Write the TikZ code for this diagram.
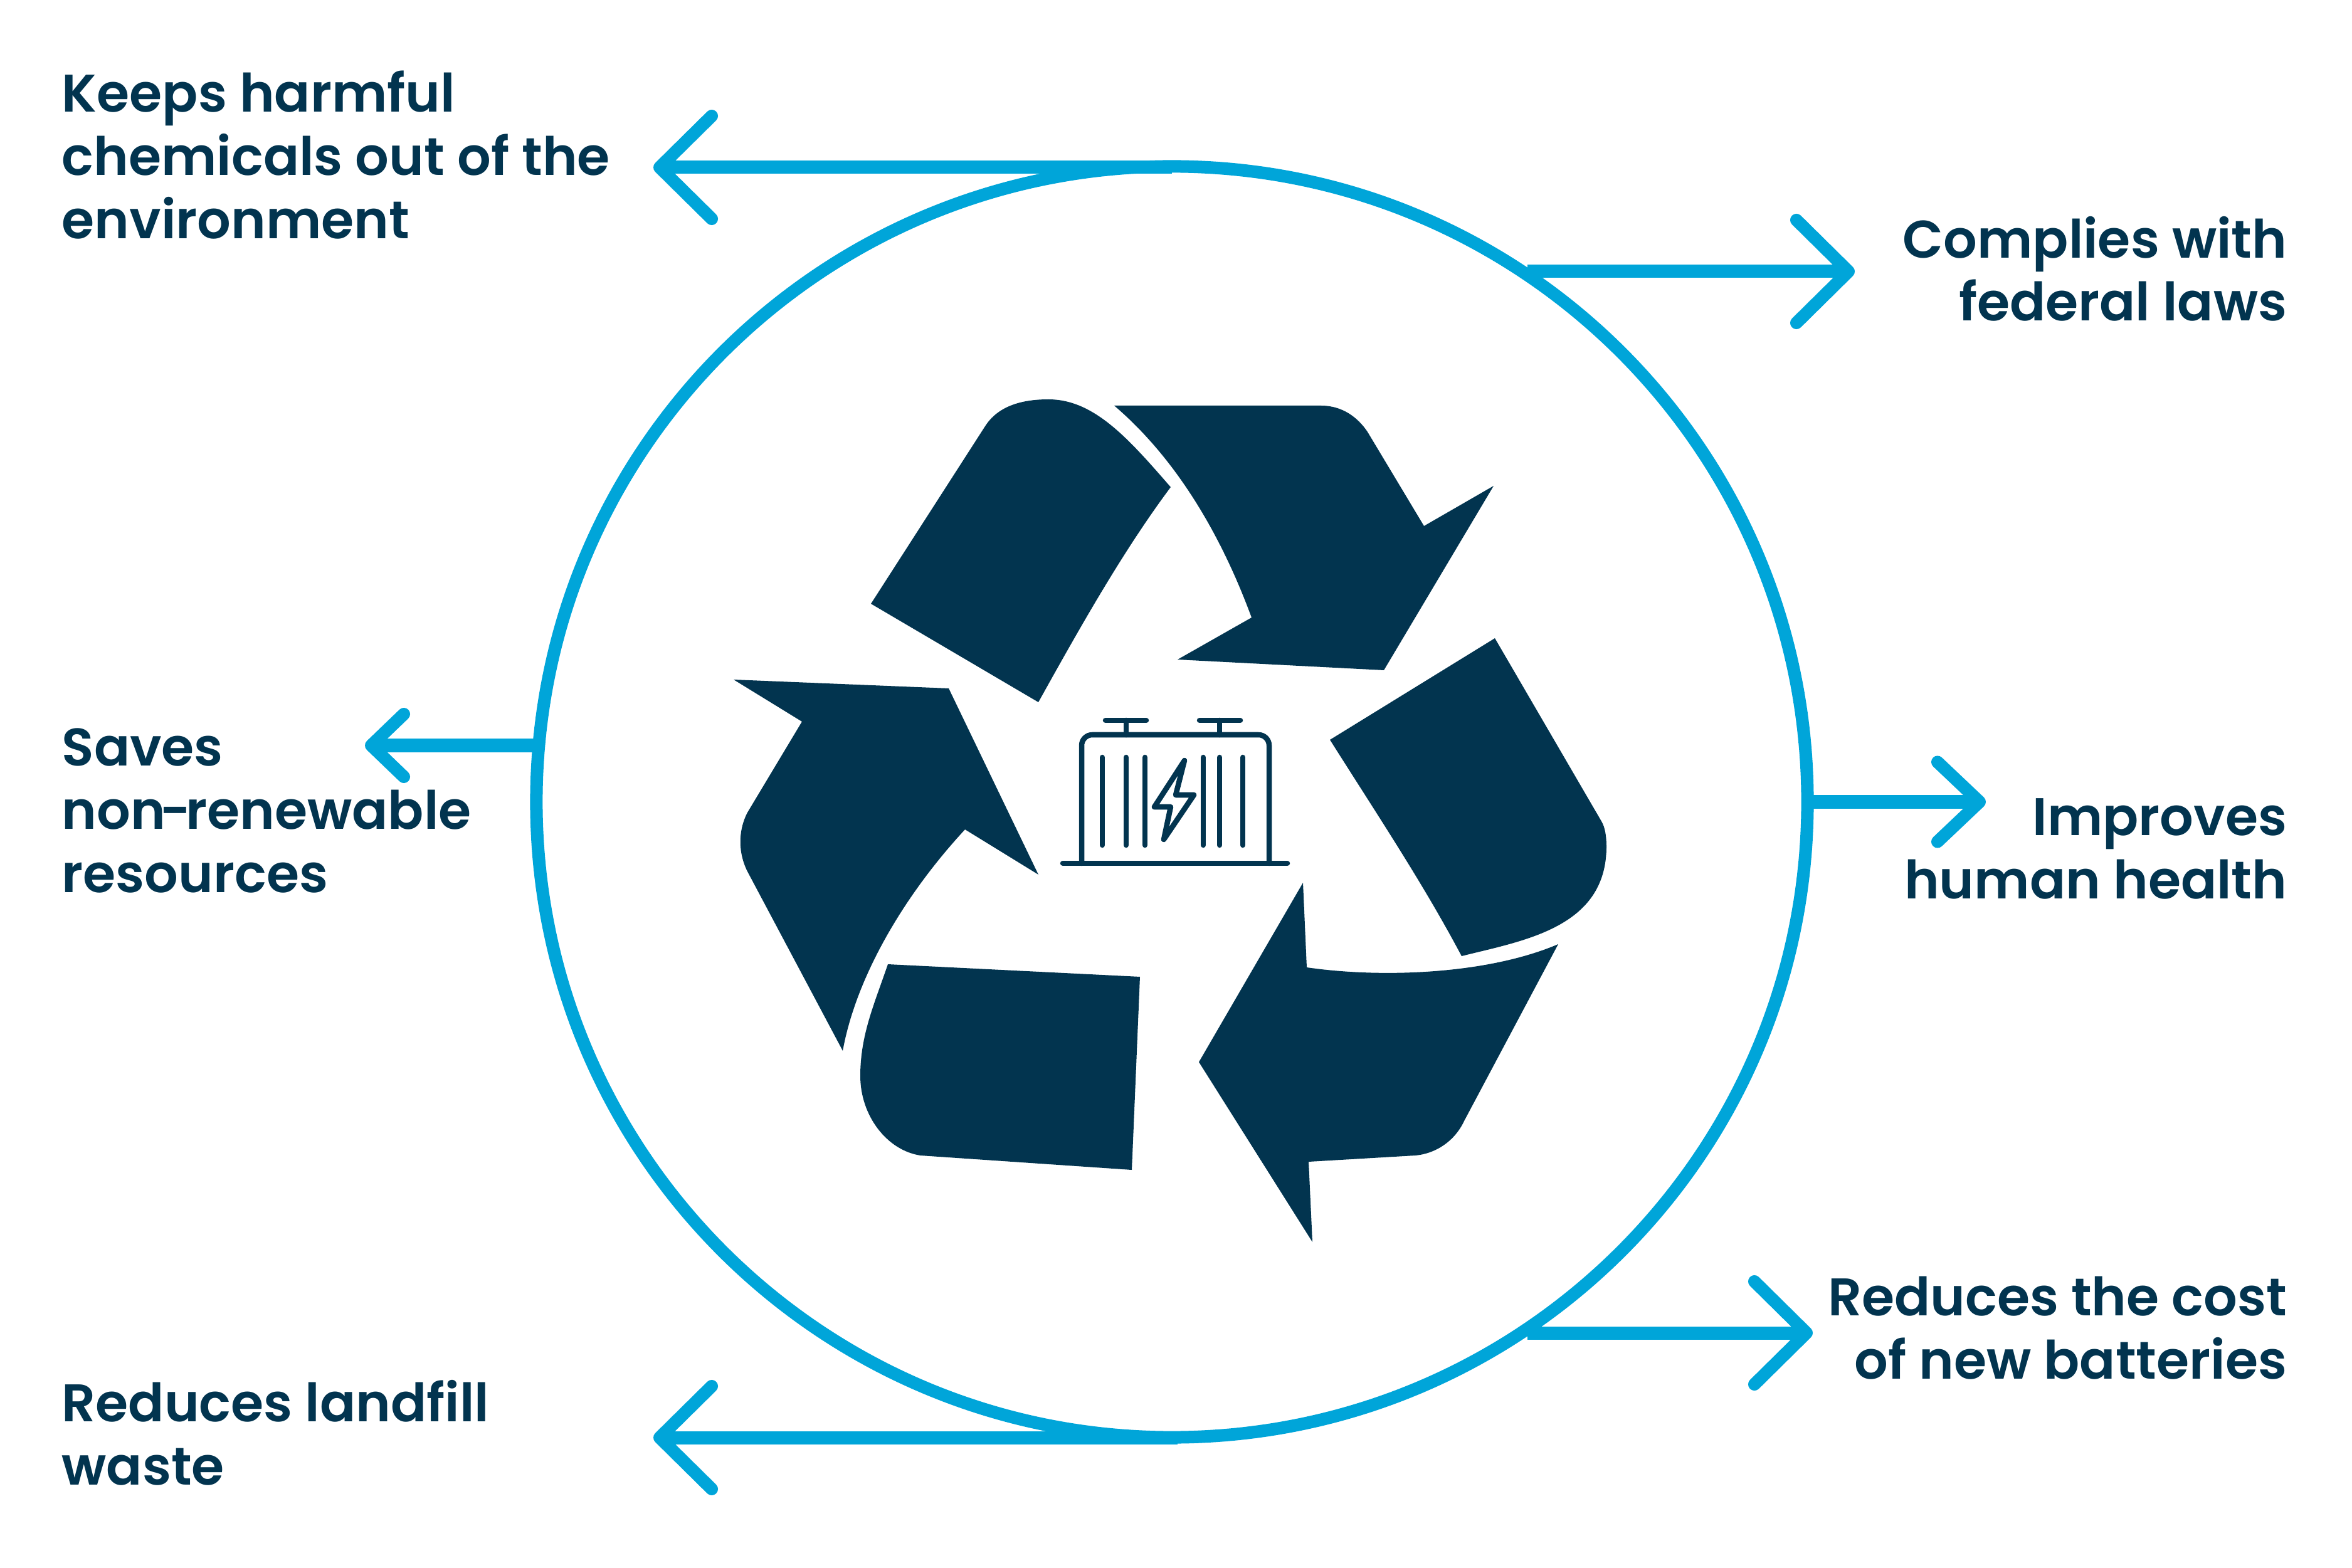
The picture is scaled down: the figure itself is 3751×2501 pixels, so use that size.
\documentclass[tikz,border=0pt]{standalone}
\usepackage{fontspec}
\setmainfont{Poppins}[UprightFont=* SemiBold]
\usepackage{xcolor}
\usetikzlibrary{arrows.meta}
\definecolor{deepnavy}{HTML}{02344F}
\definecolor{ringblue}{HTML}{00A5D9}

\begin{document}
\begin{tikzpicture}[
      x=0.01cm, y=-0.01cm,
      benefit/.style={font=\fontsize{24}{28.6}\selectfont, text=deepnavy, inner sep=0pt},
      leftnote/.style={benefit, anchor=west, align=left},
      rightnote/.style={benefit, anchor=east, align=right},
      flow/.style={draw=ringblue, line width=0.21cm, -{Straight Barb[length=0.83cm, width=1.64cm, line width=0.2cm, round]}},
      shortflow/.style={flow, -{Straight Barb[length=0.52cm, width=1cm, line width=0.2cm, round]}},
      midflow/.style={flow, -{Straight Barb[length=0.67cm, width=1.27cm, line width=0.2cm, round]}},
      arrowshape/.style={fill=deepnavy},
      battline/.style={draw=deepnavy, line width=0.085cm, line cap=round, line join=round}
    ]
      \useasboundingbox (0,0) rectangle (3751,2501);

      \node (ring) at (1869,1279) [circle, draw=ringblue, line width=0.2cm, minimum size=20.26cm, inner sep=0pt, outer sep=0pt] {};

      \node (keeps) at (98,247) [leftnote] {Keeps harmful\\chemicals out of the\\environment};
      \node (saves) at (98,1293) [leftnote] {Saves\\non\kern-.1em-\kern-.1em renewable\\resources};
      \node (landfill) at (98,2285) [leftnote] {Reduces landfill\\waste};
      \node (complies) at (3648,429) [rightnote] {Complies with\\federal laws};
      \node (improves) at (3648,1354) [rightnote] {Improves\\human health};
      \node (batteries) at (3648,2118) [rightnote] {Reduces the cost\\of new batteries};

      \coordinate (tipkeeps) at (1042,267);
      \coordinate (tipsaves) at (582,1189);
      \coordinate (tiplandfill) at (1042,2293);
      \coordinate (tipcomplies) at (2958,433);
      \coordinate (tipimproves) at (3167,1279);
      \coordinate (tipbatteries) at (2891,2126);

      \draw[flow] (ring.north |- tipkeeps) -- (tipkeeps);
      \draw[shortflow] (ring.west |- tipsaves) ++(6,0) -- (tipsaves);
      \draw[flow] (ring.south |- tiplandfill) ++(9,0) -- (tiplandfill);
      \draw[flow] (ring.56.53 |- tipcomplies) -- (tipcomplies);
      \draw[midflow] (ring.east) -- (tipimproves);
      \draw[flow] (ring.-56.63 |- tipbatteries) -- (tipbatteries);

      \fill[arrowshape] (1389,963) -- (1656,1120) .. controls (1720,1005) and (1790,880) .. (1867,777)
        .. controls (1800,700) and (1745,637) .. (1672,637) .. controls (1625,637) and (1590,650) .. (1571,680) -- cycle;
      \fill[arrowshape] (1777,647) -- (2107,647) .. controls (2140,647) and (2165,665) .. (2181,689)
        -- (2271,839) -- (2382,775) -- (2207,1069) -- (1878,1052) -- (1996,985)
        .. controls (1950,860) and (1880,735) .. (1777,647) -- cycle;
      \fill[arrowshape] (2384,1018) -- (2121,1180) .. controls (2200,1305) and (2270,1410) .. (2331,1525)
        .. controls (2430,1500) and (2562,1480) .. (2562,1350) .. controls (2562,1335) and (2560,1320) .. (2554,1310) -- cycle;
      \fill[arrowshape] (2078,1408) -- (1912,1694) -- (2093,1981) -- (2087,1853) -- (2257,1843)
        .. controls (2290,1840) and (2320,1820) .. (2335,1788) -- (2485,1506)
        .. controls (2370,1555) and (2200,1560) .. (2084,1543) -- cycle;
      \fill[arrowshape] (1416,1538) -- (1818,1558) -- (1805,1866) -- (1468,1843)
        .. controls (1415,1835) and (1372,1780) .. (1372,1716) .. controls (1372,1650) and (1395,1600) .. (1416,1538) -- cycle;
      \fill[arrowshape] (1170,1084) -- (1513,1098) -- (1656,1395) -- (1539,1323)
        .. controls (1440,1430) and (1365,1560) .. (1344,1676) -- (1192,1390)
        .. controls (1177,1360) and (1177,1325) .. (1192,1296) -- (1279,1151) -- cycle;

      \draw[battline, rounded corners=0.17cm] (1725,1377) -- (1725,1172) -- (2024,1172) -- (2024,1377);
      \draw[battline] (1695,1377) -- (2053,1377);
      \draw[battline] (1763,1149) -- (1828,1149) (1796,1149) -- (1796,1172);
      \draw[battline] (1913,1149) -- (1978,1149) (1945,1149) -- (1945,1172);
      \foreach \barx in {1758,1796,1826,1919,1945,1982}
        \draw[battline] (\barx,1208) -- (\barx,1348);
      \draw[battline] (1889,1213) -- (1841,1287) -- (1867,1287) -- (1856,1339) -- (1904,1268) -- (1875,1268) -- cycle;
    \end{tikzpicture}
\end{document}
